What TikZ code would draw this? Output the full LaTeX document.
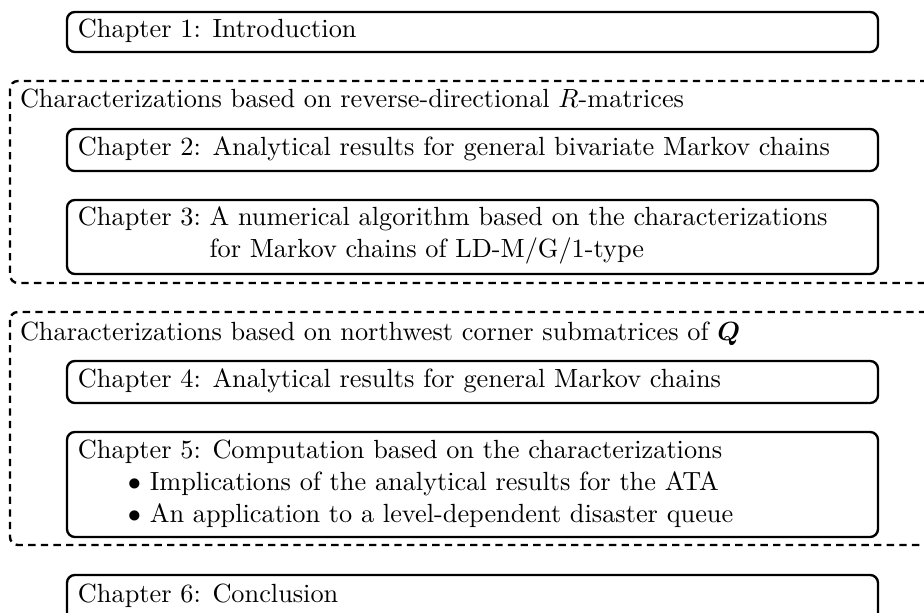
\documentclass[tikz,border=0pt]{standalone}
\usepackage{amsmath,bm}
\begin{document}
\begin{tikzpicture}[x=0.3802pt,y=-0.3802pt,
  chapbox/.style={draw, line width=0.9pt, rounded corners=3pt},
  groupbox/.style={draw, line width=0.9pt, dash pattern=on 2.8pt off 2pt, rounded corners=3pt},
  txt/.style={anchor=base west, inner sep=0pt, outer sep=0pt}]
\useasboundingbox (0,0) rectangle (924,613);
% group boxes
\draw[groupbox] (10,81) rectangle (945,283);
\draw[groupbox] (10,312) rectangle (945,545);
% chapter boxes
\draw[chapbox] (67,12) rectangle (878,52);
\draw[chapbox] (67,129) rectangle (878,171);
\draw[chapbox] (67,200) rectangle (878,274);
\draw[chapbox] (67,361) rectangle (878,403);
\draw[chapbox] (67,432) rectangle (878,537);
\draw[chapbox] (67,575) rectangle (878,630);
% texts
\node[txt] (c1) at (78,38) {Chapter 1: Introduction};
\node[txt] (g1) at (20,108) {Characterizations based on reverse-directional $R$-matrices};
\node[txt] (c2) at (78,156) {Chapter 2: Analytical results for general bivariate Markov chains};
\node[txt] (c3) at (78,226) {\begin{tabular}[t]{@{}l@{\ }l@{}}Chapter 3: & A numerical algorithm based on the characterizations\\ & for Markov chains of LD-M/G/1-type\end{tabular}};
\node[txt] (g2) at (20,341) {Characterizations based on northwest corner submatrices of $\bm{Q}$};
\node[txt] (c4) at (78,388) {Chapter 4: Analytical results for general Markov chains};
\node[txt] (c5) at (78,459) {\begin{tabular}[t]{@{}l@{}}Chapter 5: Computation based on the characterizations\\
\hspace*{19pt}$\bullet$ Implications of the analytical results for the ATA\\
\hspace*{19pt}$\bullet$ An application to a level-dependent disaster queue\end{tabular}};
\node[txt] (c6) at (78,603) {Chapter 6: Conclusion};
\end{tikzpicture}
\end{document}
